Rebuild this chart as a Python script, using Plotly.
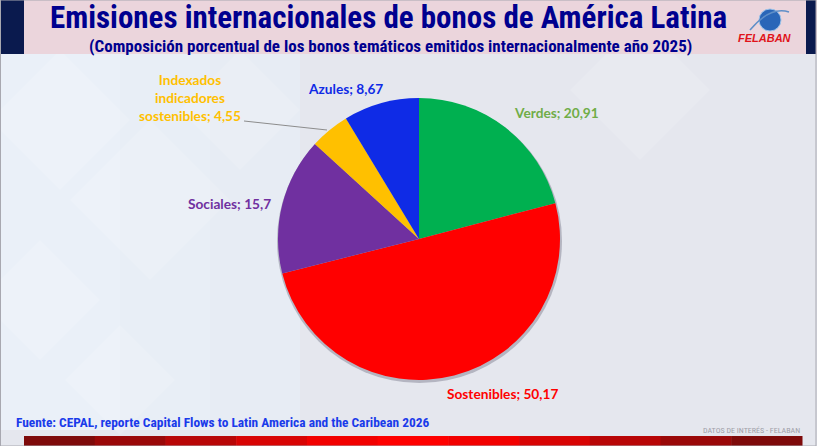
import plotly.graph_objects as go

# Data
categories = ["Verdes", "Sostenibles", "Sociales", "Indexados indicadores sostenibles", "Azules"]
values = [20.91, 50.17, 15.7, 4.55, 8.67]
label_names = ["Verdes", "Sostenibles", "Sociales", "Indexados<br>indicadores<br>sostenibles", "Azules"]
slice_colors = ["#00B050", "#FF0000", "#7030A0", "#FFC000", "#0F2BE6"]
label_colors = ["#70AD47", "#FF0000", "#7030A0", "#FFC000", "#0F2BE6"]

title = "Emisiones internacionales de bonos de América Latina"
subtitle = "(Composición porcentual de los bonos temáticos emitidos internacionalmente año 2025)"
source = "Fuente: CEPAL, reporte Capital Flows to Latin America and the Caribean 2026"

W, H = 817, 446


def px(x):
    return x / W


def py(y):
    return 1 - y / H


narrow = "Liberation Sans Narrow, Arial Narrow, Roboto Condensed, Liberation Sans, Arial"
calibri = "Lato, Open Sans, sans-serif"

# Pie geometry (pixels)
cx, cy, r = 419, 239, 141

fig = go.Figure()
fig.add_trace(
    go.Pie(
        labels=categories,
        values=values,
        sort=False,
        direction="clockwise",
        rotation=0,
        marker=dict(colors=slice_colors, line=dict(width=0)),
        textinfo="none",
        hoverinfo="label+value",
        showlegend=False,
        domain=dict(x=[px(cx - r), px(cx + r)], y=[py(cy + r), py(cy - r)]),
    )
)

shapes = []
# main background
shapes.append(dict(type="rect", xref="paper", yref="paper", x0=0, x1=1, y0=0, y1=1,
                   fillcolor="#E5E7EE", line=dict(width=0), layer="below"))
# lighter left side
for i, c in enumerate(["#E7ECF4", "#E8EEF6", "#EAF0F8"]):
    shapes.append(dict(type="rect", xref="paper", yref="paper", x0=0, x1=px(300 - i * 90),
                       y0=py(430), y1=py(54), fillcolor=c, line=dict(width=0), layer="below"))
# faint diamonds
for dx, dy, s in [(60, 120, 70), (150, 200, 80), (40, 300, 60), (240, 110, 60), (640, 90, 70), (120, 380, 55)]:
    path = "M {} {} L {} {} L {} {} L {} {} Z".format(
        px(dx), py(dy - s), px(dx + s), py(dy), px(dx), py(dy + s), px(dx - s), py(dy))
    shapes.append(dict(type="path", xref="paper", yref="paper", path=path,
                       fillcolor="rgba(255,255,255,0.14)", line=dict(width=0), layer="below"))

# title band
shapes.append(dict(type="rect", xref="paper", yref="paper", x0=0, x1=1, y0=py(54), y1=1,
                   fillcolor="#EBD5DC", line=dict(width=0), layer="below"))
shapes.append(dict(type="rect", xref="paper", yref="paper", x0=px(1), x1=px(24), y0=py(54), y1=1,
                   fillcolor="#0A1A4E", line=dict(width=0), layer="below"))
shapes.append(dict(type="rect", xref="paper", yref="paper", x0=px(806), x1=px(816), y0=py(54), y1=1,
                   fillcolor="#0A1A4E", line=dict(width=0), layer="below"))

# bottom red bar (gradient in steps)
reds = ["#7E0A0A", "#9A0808", "#B80606", "#D80303", "#F20000", "#FF0000",
        "#F20000", "#D80303", "#B80606", "#9A0808", "#7E0A0A"]
x_start, x_end = 24, 802
step = (x_end - x_start) / len(reds)
for i, c in enumerate(reds):
    shapes.append(dict(type="rect", xref="paper", yref="paper",
                       x0=px(x_start + i * step), x1=px(x_start + (i + 1) * step + 0.5),
                       y0=0, y1=py(436), fillcolor=c, line=dict(width=0), layer="below"))

# outer frame
shapes.append(dict(type="rect", xref="paper", yref="paper", x0=px(0.5), x1=px(816), y0=0, y1=1,
                   fillcolor="rgba(0,0,0,0)", line=dict(color="#A8A8B0", width=1), layer="below"))

# pie shadow
shapes.append(dict(type="circle", xref="paper", yref="paper",
                   x0=px(cx - r - 1), x1=px(cx + r + 2), y0=py(cy + r + 3), y1=py(cy - r + 1),
                   fillcolor="rgba(90,90,110,0.35)", line=dict(width=0), layer="below"))

# logo globe
shapes.append(dict(type="circle", xref="paper", yref="paper",
                   x0=px(759), x1=px(781), y0=py(31), y1=py(9),
                   fillcolor="#2A66B8", line=dict(color="#9CC3EA", width=1), layer="above"))
shapes.append(dict(type="path", xref="paper", yref="paper",
                   path="M {} {} Q {} {} {} {}".format(px(750), py(30), px(770), py(6), px(789), py(12)),
                   line=dict(color="#5F8FC8", width=1.5), layer="above"))

# leader line for the small slice
shapes.append(dict(type="line", xref="paper", yref="paper",
                   x0=px(244), y0=py(121), x1=px(327), y1=py(130),
                   line=dict(color="#8C8C8C", width=1)))

center = dict(xanchor="center", yanchor="middle", showarrow=False)
annotations = [
    dict(text="<b>" + title + "</b>", x=px(388), y=py(17),
         font=dict(family=narrow, size=31, color="#00008F"), **center),
    dict(text="<b>" + subtitle + "</b>", x=px(390), y=py(46),
         font=dict(family=narrow, size=17, color="#00008F"), **center),
    dict(text="<b><i>FELABAN</i></b>", x=px(765), y=py(38),
         font=dict(family="Liberation Sans, Arial", size=11, color="#E0131A"), **center),
    dict(text="<b>" + source + "</b>", x=px(14), y=py(422), xanchor="left", yanchor="middle",
         showarrow=False, font=dict(family=narrow, size=13.4, color="#1A3BEA")),
    dict(text="DATOS DE INTERÉS - FELABAN", x=px(802), y=py(430), xanchor="right", yanchor="middle",
         showarrow=False, font=dict(family=narrow, size=8, color="#A0A0A8")),
]

# data labels
label_pos = [(556, 113), (503, 393), (229, 203), (190, 98), (345, 88)]
for name, v, c, (lx, ly) in zip(label_names, values, label_colors, label_pos):
    txt = "{}; {}".format(name, ("{:g}".format(v)).replace(".", ","))
    annotations.append(dict(text="<b>" + txt + "</b>", x=px(lx), y=py(ly), align="center",
                            font=dict(family=calibri, size=13.7, color=c), **center))

fig.update_layout(
    width=W,
    height=H,
    margin=dict(l=0, r=0, t=0, b=0),
    paper_bgcolor="#E5E7EE",
    plot_bgcolor="#E5E7EE",
    shapes=shapes,
    annotations=annotations,
)

fig.write_html("out.html", config=dict(displayModeBar=False),
               post_script="document.body.style.margin='0';")
